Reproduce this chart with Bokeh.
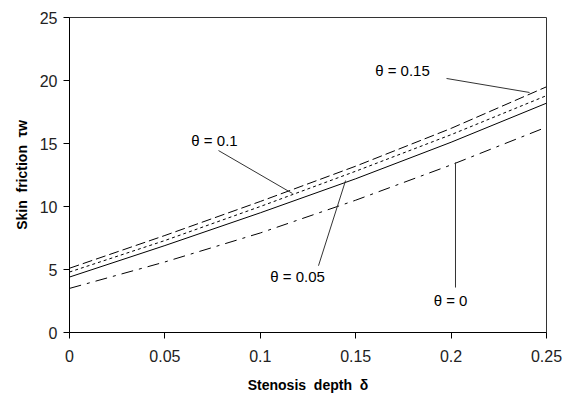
from bokeh.plotting import figure
from bokeh.models import ColumnDataSource, FixedTicker, Range1d
from bokeh.core.properties import value
from bokeh.embed import file_html
from bokeh.resources import INLINE

# ---- data ----
delta = [0.0, 0.05, 0.10, 0.15, 0.20, 0.25]
theta_0 = [3.5, 5.6, 7.9, 10.5, 13.3, 16.3]
theta_005 = [4.4, 6.9, 9.5, 12.2, 15.1, 18.2]
theta_01 = [4.8, 7.3, 10.0, 12.8, 15.7, 18.8]
theta_015 = [5.1, 7.7, 10.4, 13.2, 16.2, 19.5]

x_ticks = [0, 0.05, 0.1, 0.15, 0.2, 0.25]
x_tick_labels = ["0", "0.05", "0.1", "0.15", "0.2", "0.25"]
y_ticks = [0, 5, 10, 15, 20, 25]

# annotation labels and leader lines (data coordinates)
label_text = ["\u03b8 = 0.15", "\u03b8 = 0.1", "\u03b8 = 0.05", "\u03b8 = 0"]
label_x = [0.1745, 0.0760, 0.1195, 0.1997]
label_y = [20.8, 15.25, 4.45, 2.55]
lead_x0 = [0.1976, 0.0781, 0.1305, 0.2023]
lead_y0 = [20.16, 14.44, 5.30, 3.57]
lead_x1 = [0.2411, 0.1169, 0.1447, 0.2023]
lead_y1 = [19.05, 11.03, 12.06, 13.49]

FONT = "Liberation Sans"

p = figure(frame_width=477, frame_height=315,
           x_range=Range1d(0, 0.25), y_range=Range1d(0, 25),
           output_backend="svg", toolbar_location=None,
           min_border_left=69, min_border_right=21,
           min_border_top=17, min_border_bottom=65)

p.background_fill_color = "white"
p.border_fill_color = "white"
p.outline_line_color = "#333333"
p.outline_line_width = 1
p.xgrid.visible = False
p.ygrid.visible = False

p.line(delta, theta_015, line_color="black", line_width=1, line_dash="10 4")
p.line(delta, theta_01, line_color="black", line_width=1, line_dash="3 3")
p.line(delta, theta_005, line_color="black", line_width=1)
p.line(delta, theta_0, line_color="black", line_width=1, line_dash="12 6 3 6")

p.segment(x0=lead_x0, y0=lead_y0, x1=lead_x1, y1=lead_y1,
          line_color="#333333", line_width=1)

src = ColumnDataSource(dict(x=label_x, y=label_y, t=label_text))
p.text(x="x", y="y", text="t", source=src, text_font=value(FONT),
       text_font_size="15px", text_align="center", text_baseline="middle",
       text_color="black")

for ax in (p.xaxis[0], p.yaxis[0]):
    ax.axis_line_color = "black"
    ax.major_tick_line_color = "black"
    ax.minor_tick_line_color = None
    ax.major_tick_out = 6
    ax.major_tick_in = 0
    ax.major_label_text_font = FONT
    ax.major_label_text_font_size = "16px"
    ax.major_label_text_color = "#222222"
    ax.axis_label_text_font = FONT
    ax.axis_label_text_font_size = "14px"
    ax.axis_label_text_font_style = "bold"
    ax.axis_label_text_color = "black"

p.xaxis.ticker = FixedTicker(ticks=x_ticks)
p.xaxis.major_label_overrides = {t: l for t, l in zip(x_ticks, x_tick_labels)}
p.yaxis.ticker = FixedTicker(ticks=y_ticks)
p.xaxis.axis_label = "Stenosis\u00a0 depth\u00a0 \u03b4"
p.yaxis.axis_label = "Skin\u00a0 friction\u00a0 \u03c4w"
p.xaxis.major_label_standoff = 11
p.xaxis.axis_label_standoff = 12
p.yaxis.major_label_standoff = 6
p.yaxis.axis_label_standoff = 7

open("out.html", "w").write(file_html(p, INLINE))
